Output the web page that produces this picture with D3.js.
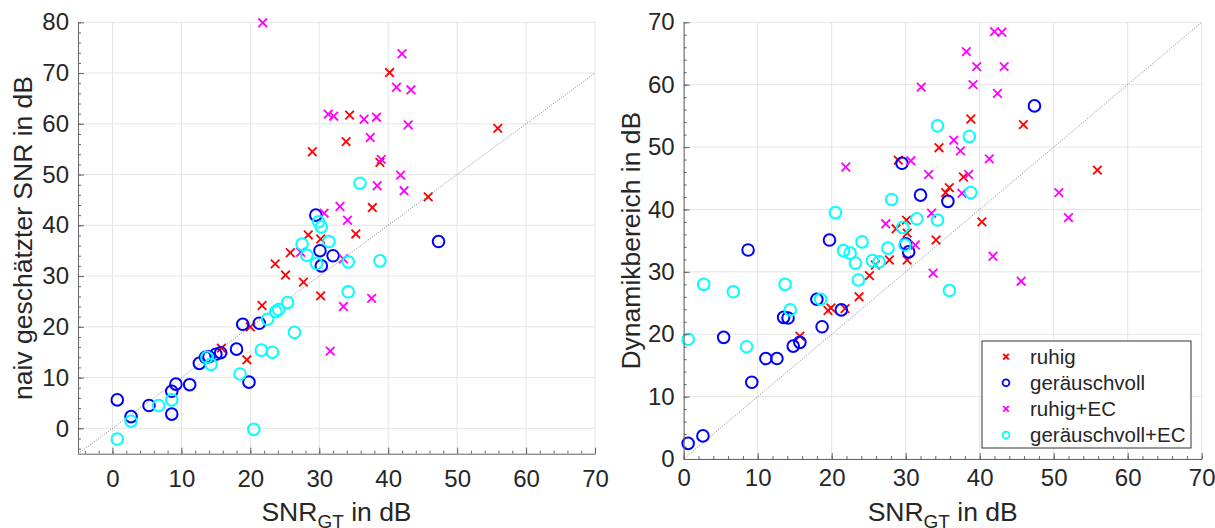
<!DOCTYPE html>
<html>
<head>
<meta charset="utf-8">
<script src="https://cdn.jsdelivr.net/npm/d3@7"></script>
<style>
  body { margin: 0; background: #fff; }
  svg { display: block; font-family: "Liberation Sans", Arial, Helvetica, sans-serif; }
  .tick text { fill: #262626; }
</style>
</head>
<body>
<svg id="chart" width="1215" height="528"></svg>
<script>
// series names / legend
const seriesNames = ["ruhig", "geräuschvoll", "ruhig+EC", "geräuschvoll+EC"];
const seriesColors = ["#ff0000", "#0000ff", "#ff00ff", "#00ffff"];
const seriesMarkers = ["x", "o", "x", "o"];

// left panel: SNR_GT vs naive SNR estimate [x, y]
const leftRuhig = [[40.2,70.1],[34.4,61.7],[33.9,56.5],[29.0,54.5],[55.9,59.1],[38.8,52.4],[45.8,45.6],
  [37.7,43.5],[28.4,38.1],[30.2,37.3],[35.3,38.3],[25.8,34.6],[23.6,32.4],[25.1,30.2],[27.7,28.8],
  [30.2,26.1],[21.7,24.2],[20.0,20.0],[19.5,13.5],[15.8,15.8]];
const leftGeraeusch = [[0.7,5.6],[2.7,2.3],[5.3,4.5],[8.6,2.8],[8.6,7.3],[9.2,8.7],[11.2,8.6],[12.6,12.8],
  [13.5,14.0],[14.0,14.1],[15.0,14.6],[15.7,14.9],[18.0,15.6],[18.9,20.5],[19.8,9.1],[21.3,20.7],
  [29.5,42.0],[30.1,35.0],[30.3,32.0],[32.0,34.0],[47.3,36.8]];
const leftRuhigEC = [[21.8,79.9],[42.0,73.8],[41.2,67.2],[43.3,66.7],[31.3,61.9],[32.1,61.5],[36.5,60.9],
  [38.3,61.3],[42.9,59.8],[37.4,57.3],[39.0,53.0],[41.8,49.9],[42.3,46.8],[38.4,47.8],[33.0,43.7],
  [34.1,41.0],[30.7,42.4],[27.3,34.7],[33.5,33.4],[37.6,25.6],[33.5,24.0],[31.6,15.2]];
const leftGeraeuschEC = [[0.7,-2.1],[2.7,1.4],[6.7,4.5],[8.6,5.6],[13.7,14.0],[14.3,12.6],[18.5,10.7],
  [20.5,-0.2],[21.6,15.4],[23.2,15.0],[22.5,21.5],[23.7,23.0],[24.1,23.4],[25.4,24.8],[26.4,18.9],
  [27.5,36.3],[28.2,34.1],[29.6,32.5],[29.9,40.7],[30.3,39.7],[31.4,36.8],[34.2,32.8],[34.2,26.9],
  [35.9,48.3],[38.8,33.0]];

// right panel: SNR_GT vs Dynamikbereich [x, y]
const rightRuhig = [[15.7,19.7],[19.5,23.8],[19.9,24.2],[21.8,24.1],[23.7,26.0],[25.1,29.4],[25.9,31.1],
  [27.8,31.9],[28.7,36.9],[30.2,36.2],[30.2,31.9],[30.1,38.3],[29.0,47.9],[34.5,49.9],[38.8,54.5],
  [45.9,53.6],[37.8,45.2],[35.9,43.5],[35.4,42.7],[40.3,38.0],[55.9,46.3],[34.1,35.1]];
const rightGeraeusch = [[0.6,2.5],[2.6,3.7],[5.4,19.5],[8.7,33.5],[9.2,12.3],[11.1,16.1],[12.6,16.1],
  [13.5,22.7],[14.1,22.6],[14.8,18.1],[15.7,18.7],[18.0,25.6],[18.7,21.2],[19.7,35.1],[21.3,23.9],
  [29.5,47.4],[30.0,34.5],[30.4,33.2],[32.0,42.3],[35.7,41.3],[47.4,56.6]];
const rightRuhigEC = [[42.0,68.5],[43.0,68.4],[38.2,65.3],[39.6,62.9],[43.3,62.9],[39.1,60.0],[32.1,59.6],
  [42.4,58.6],[36.5,51.1],[37.4,49.4],[41.3,48.1],[30.7,47.8],[33.1,45.6],[38.5,45.6],[37.6,42.6],
  [50.7,42.7],[52.0,38.7],[33.5,39.4],[27.3,37.7],[21.9,46.8],[31.3,34.3],[45.6,28.5],[41.8,32.5],
  [33.7,29.8]];
const rightGeraeuschEC = [[0.6,19.2],[2.7,28.0],[6.7,26.8],[8.5,18.0],[13.7,28.0],[14.4,23.9],[18.5,25.6],
  [20.5,39.5],[21.6,33.4],[22.5,33.0],[23.2,31.4],[23.6,28.7],[24.1,34.8],[25.5,31.8],[26.4,31.6],
  [27.6,33.8],[28.1,41.6],[29.6,37.1],[29.9,34.3],[31.5,38.5],[34.3,53.4],[34.3,38.3],[35.9,27.0],
  [38.6,51.7],[38.8,42.7]];

// ticks
const xTicks = [0, 10, 20, 30, 40, 50, 60, 70];
const leftYTicks = [0, 10, 20, 30, 40, 50, 60, 70, 80];
const rightYTicks = [0, 10, 20, 30, 40, 50, 60, 70];

const svg = d3.select("#chart");

function drawMarker(g, type, color, x, y, s, sw) {
    if (type === "x") {
        g.append("path")
            .attr("d", `M${x - s},${y - s}L${x + s},${y + s}M${x - s},${y + s}L${x + s},${y - s}`)
            .attr("stroke", color)
            .attr("stroke-width", sw)
            .attr("fill", "none");
    } else {
        g.append("circle")
            .attr("cx", x).attr("cy", y).attr("r", s)
            .attr("stroke", color)
            .attr("stroke-width", sw)
            .attr("fill", "none");
    }
}

function drawPanel(cfg) {
    const x = d3.scaleLinear().domain(cfg.xDomain).range([cfg.left, cfg.right]);
    const y = d3.scaleLinear().domain(cfg.yDomain).range([cfg.bottom, cfg.top]);
    const g = svg.append("g");

    // grid
    g.append("g").selectAll("line").data(cfg.xTicks).enter().append("line")
        .attr("x1", d => x(d)).attr("x2", d => x(d))
        .attr("y1", cfg.top).attr("y2", cfg.bottom)
        .attr("stroke", "#e4e4e4").attr("stroke-width", 1);
    g.append("g").selectAll("line").data(cfg.yTicks).enter().append("line")
        .attr("x1", cfg.left).attr("x2", cfg.right)
        .attr("y1", d => y(d)).attr("y2", d => y(d))
        .attr("stroke", "#e4e4e4").attr("stroke-width", 1);

    // diagonal y = x
    const lo = Math.max(cfg.xDomain[0], cfg.yDomain[0]);
    const hi = Math.min(cfg.xDomain[1], cfg.yDomain[1]);
    g.append("line")
        .attr("x1", x(lo)).attr("y1", y(lo))
        .attr("x2", x(hi)).attr("y2", y(hi))
        .attr("stroke", "#8a8a8a").attr("stroke-width", 1)
        .attr("stroke-dasharray", "1,1.5");

    // markers
    cfg.series.forEach((data, i) => {
        const sg = g.append("g");
        data.forEach(d => drawMarker(sg, seriesMarkers[i], seriesColors[i], x(d[0]), y(d[1]),
            seriesMarkers[i] === "x" ? 4.3 : 5.8, seriesMarkers[i] === "x" ? 1.8 : 2));
    });

    // minor ticks
    const xMinor = d3.range(Math.ceil(cfg.xDomain[0] / 2) * 2, cfg.xDomain[1] + 0.1, 2);
    const yMinor = d3.range(Math.ceil(cfg.yDomain[0] / 2) * 2, cfg.yDomain[1] + 0.1, 2);
    g.append("g").attr("transform", `translate(0,${cfg.bottom})`)
        .call(d3.axisBottom(x).tickValues(xMinor).tickSizeInner(-3).tickSizeOuter(0).tickFormat(""))
        .call(a => a.select(".domain").remove())
        .selectAll("line").attr("stroke", "#666");
    g.append("g").attr("transform", `translate(${cfg.left},0)`)
        .call(d3.axisLeft(y).tickValues(yMinor).tickSizeInner(-3).tickSizeOuter(0).tickFormat(""))
        .call(a => a.select(".domain").remove())
        .selectAll("line").attr("stroke", "#666");

    // major axes
    const xAxis = g.append("g").attr("transform", `translate(0,${cfg.bottom})`)
        .call(d3.axisBottom(x).tickValues(cfg.xTicks).tickSizeInner(-6).tickSizeOuter(0).tickPadding(cfg.xPad))
        .attr("font-size", 24).attr("font-family", null);
    const yAxis = g.append("g").attr("transform", `translate(${cfg.left},0)`)
        .call(d3.axisLeft(y).tickValues(cfg.yTicks).tickSizeInner(-6).tickSizeOuter(0).tickPadding(9))
        .attr("font-size", 24).attr("font-family", null);
    [xAxis, yAxis].forEach(a => {
        a.select(".domain").attr("stroke", "#666");
        a.selectAll(".tick line").attr("stroke", "#666");
    });

    // x label with subscript
    const xl = g.append("text")
        .attr("x", (cfg.left + cfg.right) / 2)
        .attr("y", 521)
        .attr("text-anchor", "middle")
        .attr("font-size", 26.5)
        .attr("fill", "#262626");
    xl.append("tspan").text("SNR");
    xl.append("tspan").attr("font-size", 19).attr("dy", 7).text("GT");
    xl.append("tspan").attr("dy", -7).text(" in dB");

    // y label
    g.append("text")
        .attr("transform", `translate(${cfg.yLabelX},${(cfg.top + cfg.bottom) / 2}) rotate(-90)`)
        .attr("text-anchor", "middle")
        .attr("font-size", 26.5)
        .attr("fill", "#262626")
        .text(cfg.yLabel);

    return { x, y, g };
}

drawPanel({
    left: 78, right: 595, top: 22.3, bottom: 453.7,
    xDomain: [-5, 70], yDomain: [-5, 80],
    xTicks: xTicks, yTicks: leftYTicks, xPad: 16,
    yLabel: "naiv geschätzter SNR in dB", yLabelX: 32,
    series: [leftRuhig, leftGeraeusch, leftRuhigEC, leftGeraeuschEC]
});

drawPanel({
    left: 683.7, right: 1201.7, top: 22.3, bottom: 459,
    xDomain: [0, 70], yDomain: [0, 70],
    xTicks: xTicks, yTicks: rightYTicks, xPad: 10,
    yLabel: "Dynamikbereich in dB", yLabelX: 640,
    series: [rightRuhig, rightGeraeusch, rightRuhigEC, rightGeraeuschEC]
});

// legend (right panel)
const legend = svg.append("g").attr("transform", "translate(982,341)");
legend.append("rect")
    .attr("width", 209).attr("height", 107)
    .attr("fill", "#fff").attr("stroke", "#333").attr("stroke-width", 1);
seriesNames.forEach((name, i) => {
    const ly = 15.7 + i * 26.1;
    drawMarker(legend, seriesMarkers[i], seriesColors[i], 24, ly,
        seriesMarkers[i] === "x" ? 2.8 : 3.4, 1.8);
    legend.append("text")
        .attr("x", 48).attr("y", ly + 7)
        .attr("font-size", 20.5)
        .attr("fill", "#262626")
        .text(name);
});
</script>
</body>
</html>
